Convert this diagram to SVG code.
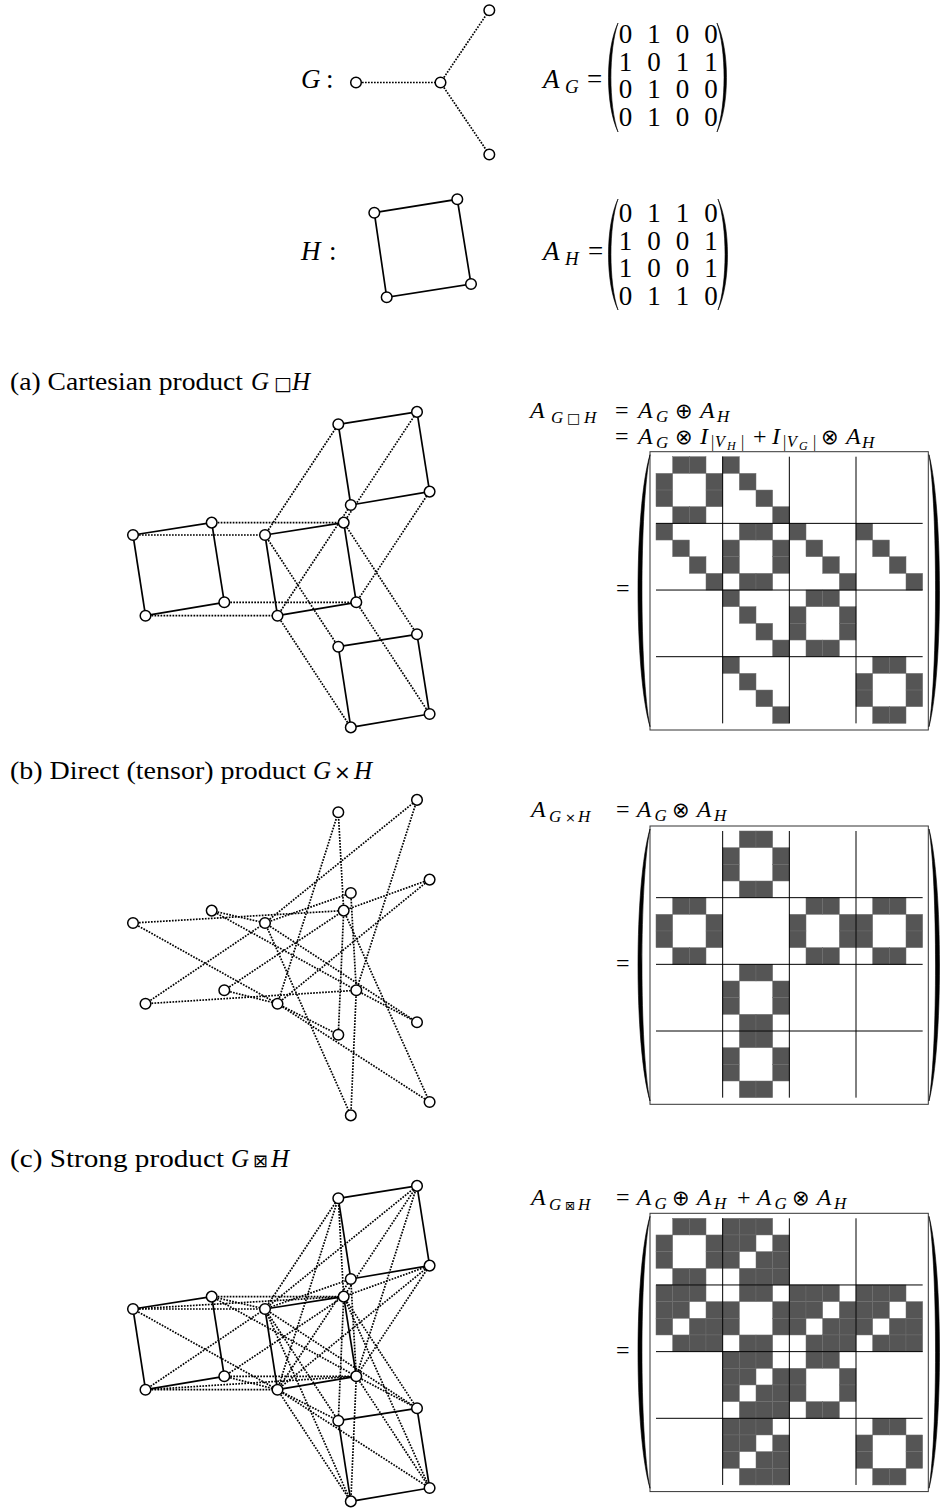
<svg xmlns="http://www.w3.org/2000/svg" xmlns:xlink="http://www.w3.org/1999/xlink" width="940" height="1509" viewBox="0 0 940 1509">
<style>
.t{font-family:"Liberation Serif","DejaVu Serif",serif;fill:#000}
.i{font-style:italic}
.sym{font-family:"DejaVu Sans","Liberation Sans",sans-serif;fill:#000}
.n{fill:#fff;stroke:#000;stroke-width:1.5}
.s{stroke:#000;stroke-width:1.7;fill:none}
.d{stroke:#000;stroke-width:1.7;stroke-dasharray:1.7 1.3;fill:none}
.cell{fill:#555;stroke:#6e6e6e;stroke-width:0.5}
.sep{stroke:#000;stroke-width:1;fill:none}
.box{fill:none;stroke:#333;stroke-width:1}
.par{fill:#000;stroke:#000;stroke-width:0.6}
</style>
<defs>
<g id="bAH">
<rect class="cell" x="16.667" y="0" width="16.667" height="16.667"/><rect class="cell" x="33.333" y="0" width="16.667" height="16.667"/>
<rect class="cell" x="0" y="16.667" width="16.667" height="16.667"/><rect class="cell" x="50" y="16.667" width="16.667" height="16.667"/>
<rect class="cell" x="0" y="33.333" width="16.667" height="16.667"/><rect class="cell" x="50" y="33.333" width="16.667" height="16.667"/>
<rect class="cell" x="16.667" y="50" width="16.667" height="16.667"/><rect class="cell" x="33.333" y="50" width="16.667" height="16.667"/>
</g>
<g id="bI">
<rect class="cell" x="0" y="0" width="16.667" height="16.667"/><rect class="cell" x="16.667" y="16.667" width="16.667" height="16.667"/>
<rect class="cell" x="33.333" y="33.333" width="16.667" height="16.667"/><rect class="cell" x="50" y="50" width="16.667" height="16.667"/>
</g>
<g id="bIAH">
<rect class="cell" x="0" y="0" width="16.667" height="16.667"/><rect class="cell" x="16.667" y="0" width="16.667" height="16.667"/><rect class="cell" x="33.333" y="0" width="16.667" height="16.667"/>
<rect class="cell" x="0" y="16.667" width="16.667" height="16.667"/><rect class="cell" x="16.667" y="16.667" width="16.667" height="16.667"/><rect class="cell" x="50" y="16.667" width="16.667" height="16.667"/>
<rect class="cell" x="0" y="33.333" width="16.667" height="16.667"/><rect class="cell" x="33.333" y="33.333" width="16.667" height="16.667"/><rect class="cell" x="50" y="33.333" width="16.667" height="16.667"/>
<rect class="cell" x="16.667" y="50" width="16.667" height="16.667"/><rect class="cell" x="33.333" y="50" width="16.667" height="16.667"/><rect class="cell" x="50" y="50" width="16.667" height="16.667"/>
</g>
<g id="frame">
<path class="sep" d="M66.667 0V266.667M133.333 0V266.667M200 0V266.667M0 66.667H266.667M0 133.333H266.667M0 200H266.667"/>
<rect class="box" x="-6" y="-5" width="278.3" height="278.3"/>
<path class="par" d="M-6 -2C-22 52 -22 216 -6 270C-16.7 216 -16.7 52 -6 -2Z"/>
<path class="par" d="M273 -2C287 52 287 216 273 270C281.7 216 281.7 52 273 -2Z"/>
</g>
</defs>

<!-- Top: G -->
<g id="top-G">
<text class="t i" x="301" y="88" font-size="27">G</text>
<text class="t" x="326" y="88" font-size="27">:</text>
<g id="top-G-edges">
<path class="d" d="M356 82.5L440.5 82.5"/>
<path class="d" d="M440.5 82.5L489.3 10.3"/>
<path class="d" d="M440.5 82.5L489.3 154.5"/>
</g>
<g id="G1"><circle class="n" cx="356" cy="82.5" r="5.3"/></g>
<g id="G2"><circle class="n" cx="440.5" cy="82.5" r="5.3"/></g>
<g id="G3"><circle class="n" cx="489.3" cy="10.3" r="5.3"/></g>
<g id="G4"><circle class="n" cx="489.3" cy="154.5" r="5.3"/></g>
<g id="matrix-AG">
<text class="t" y="88" font-size="27"><tspan class="i" x="543">A</tspan><tspan class="i" x="565" y="93" font-size="19">G</tspan><tspan x="587" y="88">=</tspan></text>
<path class="par" d="M618 23C605.3 50 605.3 105 618 132C608.6 105 608.6 50 618 23Z"/>
<path class="par" d="M717 23C729.7 50 729.7 105 717 132C726.4 105 726.4 50 717 23Z"/>
<g class="t" font-size="27" text-anchor="middle">
<text x="625.5 654 682.5 711" y="43">0100</text>
<text x="625.5 654 682.5 711" y="70.7">1011</text>
<text x="625.5 654 682.5 711" y="98.3">0100</text>
<text x="625.5 654 682.5 711" y="126">0100</text>
</g>
</g>
</g>

<!-- Top: H -->
<g id="top-H">
<text class="t i" x="301" y="260" font-size="27">H</text>
<text class="t" x="329" y="260" font-size="27">:</text>
<g id="top-H-edges">
<path class="s" d="M374.3 212.7L457.3 199.3L471 284L386.7 297.3Z"/>
</g>
<g id="H1"><circle class="n" cx="374.3" cy="212.7" r="5.3"/></g>
<g id="H2"><circle class="n" cx="457.3" cy="199.3" r="5.3"/></g>
<g id="H3"><circle class="n" cx="471" cy="284" r="5.3"/></g>
<g id="H4"><circle class="n" cx="386.7" cy="297.3" r="5.3"/></g>
<g id="matrix-AH">
<text class="t" y="260" font-size="27"><tspan class="i" x="543">A</tspan><tspan class="i" x="565" y="265" font-size="19">H</tspan><tspan x="588" y="260">=</tspan></text>
<path class="par" d="M618 199C605.3 226 605.3 283 618 310C608.6 283 608.6 226 618 199Z"/>
<path class="par" d="M718 199C730.7 226 730.7 283 718 310C727.4 283 727.4 226 718 199Z"/>
<g class="t" font-size="27" text-anchor="middle">
<text x="625.5 654 682.5 711" y="222">0110</text>
<text x="625.5 654 682.5 711" y="249.7">1001</text>
<text x="625.5 654 682.5 711" y="277.3">1001</text>
<text x="625.5 654 682.5 711" y="305">0110</text>
</g>
</g>
</g>

<!-- (a) Cartesian -->
<g id="label-a">
<text class="t" x="10" y="390" font-size="25" textLength="233" lengthAdjust="spacingAndGlyphs">(a) Cartesian product</text>
<text class="t i" x="251" y="390" font-size="25">G</text>
<text class="sym" x="274" y="390" font-size="19">□</text>
<text class="t i" x="292" y="390" font-size="25">H</text>
</g>
<g id="graph-a">
<g id="edges-a">
<path class="s" d="M133 535L211.7 522.6"/><path class="s" d="M211.7 522.6L224.3 602.3"/><path class="s" d="M224.3 602.3L145.5 615.7"/><path class="s" d="M145.5 615.7L133 535"/>
<path class="s" d="M265 535L343.7 522.6"/><path class="s" d="M343.7 522.6L356.3 602.3"/><path class="s" d="M356.3 602.3L277.5 615.7"/><path class="s" d="M277.5 615.7L265 535"/>
<path class="s" d="M338.3 424.3L417 411.9"/><path class="s" d="M417 411.9L429.6 491.6"/><path class="s" d="M429.6 491.6L350.8 505"/><path class="s" d="M350.8 505L338.3 424.3"/>
<path class="s" d="M338.3 646.7L417 634.3"/><path class="s" d="M417 634.3L429.6 714"/><path class="s" d="M429.6 714L350.8 727.4"/><path class="s" d="M350.8 727.4L338.3 646.7"/>
<path class="d" d="M133 535L265 535"/><path class="d" d="M211.7 522.6L343.7 522.6"/><path class="d" d="M224.3 602.3L356.3 602.3"/><path class="d" d="M145.5 615.7L277.5 615.7"/>
<path class="d" d="M265 535L338.3 424.3"/><path class="d" d="M343.7 522.6L417 411.9"/><path class="d" d="M356.3 602.3L429.6 491.6"/><path class="d" d="M277.5 615.7L350.8 505"/>
<path class="d" d="M265 535L338.3 646.7"/><path class="d" d="M343.7 522.6L417 634.3"/><path class="d" d="M356.3 602.3L429.6 714"/><path class="d" d="M277.5 615.7L350.8 727.4"/>
</g>
<g id="a-A1"><circle class="n" cx="133" cy="535" r="5.3"/></g>
<g id="a-A2"><circle class="n" cx="211.7" cy="522.6" r="5.3"/></g>
<g id="a-A3"><circle class="n" cx="224.3" cy="602.3" r="5.3"/></g>
<g id="a-A4"><circle class="n" cx="145.5" cy="615.7" r="5.3"/></g>
<g id="a-B1"><circle class="n" cx="265" cy="535" r="5.3"/></g>
<g id="a-B2"><circle class="n" cx="343.7" cy="522.6" r="5.3"/></g>
<g id="a-B3"><circle class="n" cx="356.3" cy="602.3" r="5.3"/></g>
<g id="a-B4"><circle class="n" cx="277.5" cy="615.7" r="5.3"/></g>
<g id="a-C1"><circle class="n" cx="338.3" cy="424.3" r="5.3"/></g>
<g id="a-C2"><circle class="n" cx="417" cy="411.9" r="5.3"/></g>
<g id="a-C3"><circle class="n" cx="429.6" cy="491.6" r="5.3"/></g>
<g id="a-C4"><circle class="n" cx="350.8" cy="505" r="5.3"/></g>
<g id="a-D1"><circle class="n" cx="338.3" cy="646.7" r="5.3"/></g>
<g id="a-D2"><circle class="n" cx="417" cy="634.3" r="5.3"/></g>
<g id="a-D3"><circle class="n" cx="429.6" cy="714" r="5.3"/></g>
<g id="a-D4"><circle class="n" cx="350.8" cy="727.4" r="5.3"/></g>
</g>
<g id="eq-a">
<text class="t" y="418" font-size="24"><tspan class="i" x="530">A</tspan><tspan class="i" x="551" y="423" font-size="17">G</tspan><tspan class="i" x="584" y="423" font-size="17">H</tspan><tspan x="615" y="418">=</tspan><tspan class="i" x="638">A</tspan><tspan class="i" x="656" y="422" font-size="17">G</tspan><tspan class="i" x="700" y="418">A</tspan><tspan class="i" x="717" y="422" font-size="17">H</tspan></text>
<text class="sym" x="567" y="423" font-size="14">□</text>
<text class="sym" x="675" y="418" font-size="21">⊕</text>
<text class="t" y="444" font-size="24"><tspan x="615">=</tspan><tspan class="i" x="638">A</tspan><tspan class="i" x="656" y="448" font-size="17">G</tspan><tspan class="i" x="700" y="444">I</tspan><tspan x="711" y="447" font-size="16">|</tspan><tspan class="i" x="715" y="447" font-size="16">V</tspan><tspan class="i" x="727" y="450" font-size="12">H</tspan><tspan x="741" y="447" font-size="16">|</tspan><tspan x="753" y="444">+</tspan><tspan class="i" x="772" y="444">I</tspan><tspan x="783" y="447" font-size="16">|</tspan><tspan class="i" x="787" y="447" font-size="16">V</tspan><tspan class="i" x="799" y="450" font-size="12">G</tspan><tspan x="813" y="447" font-size="16">|</tspan><tspan class="i" x="846" y="444">A</tspan><tspan class="i" x="862" y="448" font-size="17">H</tspan></text>
<text class="sym" x="675" y="444" font-size="21">⊗</text>
<text class="sym" x="821" y="444" font-size="21">⊗</text>
</g>
<g id="matrix-a" transform="translate(656,456.7)">
<use xlink:href="#bAH" x="0" y="0"/><use xlink:href="#bAH" x="66.667" y="66.667"/><use xlink:href="#bAH" x="133.333" y="133.333"/><use xlink:href="#bAH" x="200" y="200"/>
<use xlink:href="#bI" x="66.667" y="0"/><use xlink:href="#bI" x="0" y="66.667"/><use xlink:href="#bI" x="133.333" y="66.667"/><use xlink:href="#bI" x="200" y="66.667"/><use xlink:href="#bI" x="66.667" y="133.333"/><use xlink:href="#bI" x="66.667" y="200"/>
<use xlink:href="#frame"/>
<text class="t" x="-40" y="139.5" font-size="24">=</text>
</g>

<!-- (b) Direct -->
<g id="label-b">
<text class="t" x="10" y="779" font-size="25" textLength="296" lengthAdjust="spacingAndGlyphs">(b) Direct (tensor) product</text>
<text class="t i" x="313" y="779" font-size="25">G</text>
<text class="sym" x="334" y="779" font-size="20">×</text>
<text class="t i" x="354" y="779" font-size="25">H</text>
</g>
<g id="graph-b" transform="translate(0,388)">
<g id="edges-b">
<path class="d" d="M133 535L343.7 522.6"/><path class="d" d="M211.7 522.6L265 535"/><path class="d" d="M211.7 522.6L356.3 602.3"/><path class="d" d="M224.3 602.3L343.7 522.6"/>
<path class="d" d="M224.3 602.3L277.5 615.7"/><path class="d" d="M145.5 615.7L356.3 602.3"/><path class="d" d="M145.5 615.7L265 535"/><path class="d" d="M133 535L277.5 615.7"/>
<path class="d" d="M265 535L417 411.9"/><path class="d" d="M343.7 522.6L338.3 424.3"/><path class="d" d="M343.7 522.6L429.6 491.6"/><path class="d" d="M356.3 602.3L417 411.9"/>
<path class="d" d="M356.3 602.3L350.8 505"/><path class="d" d="M277.5 615.7L429.6 491.6"/><path class="d" d="M277.5 615.7L338.3 424.3"/><path class="d" d="M265 535L350.8 505"/>
<path class="d" d="M265 535L417 634.3"/><path class="d" d="M343.7 522.6L338.3 646.7"/><path class="d" d="M343.7 522.6L429.6 714"/><path class="d" d="M356.3 602.3L417 634.3"/>
<path class="d" d="M356.3 602.3L350.8 727.4"/><path class="d" d="M277.5 615.7L429.6 714"/><path class="d" d="M277.5 615.7L338.3 646.7"/><path class="d" d="M265 535L350.8 727.4"/>
</g>
<g id="b-A1"><circle class="n" cx="133" cy="535" r="5.3"/></g>
<g id="b-A2"><circle class="n" cx="211.7" cy="522.6" r="5.3"/></g>
<g id="b-A3"><circle class="n" cx="224.3" cy="602.3" r="5.3"/></g>
<g id="b-A4"><circle class="n" cx="145.5" cy="615.7" r="5.3"/></g>
<g id="b-B1"><circle class="n" cx="265" cy="535" r="5.3"/></g>
<g id="b-B2"><circle class="n" cx="343.7" cy="522.6" r="5.3"/></g>
<g id="b-B3"><circle class="n" cx="356.3" cy="602.3" r="5.3"/></g>
<g id="b-B4"><circle class="n" cx="277.5" cy="615.7" r="5.3"/></g>
<g id="b-C1"><circle class="n" cx="338.3" cy="424.3" r="5.3"/></g>
<g id="b-C2"><circle class="n" cx="417" cy="411.9" r="5.3"/></g>
<g id="b-C3"><circle class="n" cx="429.6" cy="491.6" r="5.3"/></g>
<g id="b-C4"><circle class="n" cx="350.8" cy="505" r="5.3"/></g>
<g id="b-D1"><circle class="n" cx="338.3" cy="646.7" r="5.3"/></g>
<g id="b-D2"><circle class="n" cx="417" cy="634.3" r="5.3"/></g>
<g id="b-D3"><circle class="n" cx="429.6" cy="714" r="5.3"/></g>
<g id="b-D4"><circle class="n" cx="350.8" cy="727.4" r="5.3"/></g>
</g>
<g id="eq-b">
<text class="t" y="816.7" font-size="24"><tspan class="i" x="531">A</tspan><tspan class="i" x="549" y="821.7" font-size="17">G</tspan><tspan class="i" x="578" y="821.7" font-size="17">H</tspan><tspan x="616" y="816.7">=</tspan><tspan class="i" x="636.7">A</tspan><tspan class="i" x="654.5" y="820.7" font-size="17">G</tspan><tspan class="i" x="696.7" y="816.7">A</tspan><tspan class="i" x="714" y="820.7" font-size="17">H</tspan></text>
<text class="sym" x="565" y="821.7" font-size="13">×</text>
<text class="sym" x="672" y="816.7" font-size="21">⊗</text>
</g>
<g id="matrix-b" transform="translate(656,831)">
<use xlink:href="#bAH" x="66.667" y="0"/><use xlink:href="#bAH" x="0" y="66.667"/><use xlink:href="#bAH" x="133.333" y="66.667"/><use xlink:href="#bAH" x="200" y="66.667"/><use xlink:href="#bAH" x="66.667" y="133.333"/><use xlink:href="#bAH" x="66.667" y="200"/>
<use xlink:href="#frame"/>
<text class="t" x="-40" y="139.5" font-size="24">=</text>
</g>

<!-- (c) Strong -->
<g id="label-c">
<text class="t" x="10" y="1167" font-size="25" textLength="214" lengthAdjust="spacingAndGlyphs">(c) Strong product</text>
<text class="t i" x="231" y="1167" font-size="25">G</text>
<text class="sym" x="253" y="1167" font-size="18">⊠</text>
<text class="t i" x="271" y="1167" font-size="25">H</text>
</g>
<g id="graph-c" transform="translate(0,774)">
<g id="edges-c">
<path class="d" d="M133 535L265 535"/><path class="d" d="M211.7 522.6L343.7 522.6"/><path class="d" d="M224.3 602.3L356.3 602.3"/><path class="d" d="M145.5 615.7L277.5 615.7"/>
<path class="d" d="M265 535L338.3 424.3"/><path class="d" d="M343.7 522.6L417 411.9"/><path class="d" d="M356.3 602.3L429.6 491.6"/><path class="d" d="M277.5 615.7L350.8 505"/>
<path class="d" d="M265 535L338.3 646.7"/><path class="d" d="M343.7 522.6L417 634.3"/><path class="d" d="M356.3 602.3L429.6 714"/><path class="d" d="M277.5 615.7L350.8 727.4"/>
<path class="d" d="M133 535L343.7 522.6"/><path class="d" d="M211.7 522.6L265 535"/><path class="d" d="M211.7 522.6L356.3 602.3"/><path class="d" d="M224.3 602.3L343.7 522.6"/>
<path class="d" d="M224.3 602.3L277.5 615.7"/><path class="d" d="M145.5 615.7L356.3 602.3"/><path class="d" d="M145.5 615.7L265 535"/><path class="d" d="M133 535L277.5 615.7"/>
<path class="d" d="M265 535L417 411.9"/><path class="d" d="M343.7 522.6L338.3 424.3"/><path class="d" d="M343.7 522.6L429.6 491.6"/><path class="d" d="M356.3 602.3L417 411.9"/>
<path class="d" d="M356.3 602.3L350.8 505"/><path class="d" d="M277.5 615.7L429.6 491.6"/><path class="d" d="M277.5 615.7L338.3 424.3"/><path class="d" d="M265 535L350.8 505"/>
<path class="d" d="M265 535L417 634.3"/><path class="d" d="M343.7 522.6L338.3 646.7"/><path class="d" d="M343.7 522.6L429.6 714"/><path class="d" d="M356.3 602.3L417 634.3"/>
<path class="d" d="M356.3 602.3L350.8 727.4"/><path class="d" d="M277.5 615.7L429.6 714"/><path class="d" d="M277.5 615.7L338.3 646.7"/><path class="d" d="M265 535L350.8 727.4"/>
<path class="s" d="M133 535L211.7 522.6"/><path class="s" d="M211.7 522.6L224.3 602.3"/><path class="s" d="M224.3 602.3L145.5 615.7"/><path class="s" d="M145.5 615.7L133 535"/>
<path class="s" d="M265 535L343.7 522.6"/><path class="s" d="M343.7 522.6L356.3 602.3"/><path class="s" d="M356.3 602.3L277.5 615.7"/><path class="s" d="M277.5 615.7L265 535"/>
<path class="s" d="M338.3 424.3L417 411.9"/><path class="s" d="M417 411.9L429.6 491.6"/><path class="s" d="M429.6 491.6L350.8 505"/><path class="s" d="M350.8 505L338.3 424.3"/>
<path class="s" d="M338.3 646.7L417 634.3"/><path class="s" d="M417 634.3L429.6 714"/><path class="s" d="M429.6 714L350.8 727.4"/><path class="s" d="M350.8 727.4L338.3 646.7"/>
</g>
<g id="c-A1"><circle class="n" cx="133" cy="535" r="5.3"/></g>
<g id="c-A2"><circle class="n" cx="211.7" cy="522.6" r="5.3"/></g>
<g id="c-A3"><circle class="n" cx="224.3" cy="602.3" r="5.3"/></g>
<g id="c-A4"><circle class="n" cx="145.5" cy="615.7" r="5.3"/></g>
<g id="c-B1"><circle class="n" cx="265" cy="535" r="5.3"/></g>
<g id="c-B2"><circle class="n" cx="343.7" cy="522.6" r="5.3"/></g>
<g id="c-B3"><circle class="n" cx="356.3" cy="602.3" r="5.3"/></g>
<g id="c-B4"><circle class="n" cx="277.5" cy="615.7" r="5.3"/></g>
<g id="c-C1"><circle class="n" cx="338.3" cy="424.3" r="5.3"/></g>
<g id="c-C2"><circle class="n" cx="417" cy="411.9" r="5.3"/></g>
<g id="c-C3"><circle class="n" cx="429.6" cy="491.6" r="5.3"/></g>
<g id="c-C4"><circle class="n" cx="350.8" cy="505" r="5.3"/></g>
<g id="c-D1"><circle class="n" cx="338.3" cy="646.7" r="5.3"/></g>
<g id="c-D2"><circle class="n" cx="417" cy="634.3" r="5.3"/></g>
<g id="c-D3"><circle class="n" cx="429.6" cy="714" r="5.3"/></g>
<g id="c-D4"><circle class="n" cx="350.8" cy="727.4" r="5.3"/></g>
</g>
<g id="eq-c">
<text class="t" y="1205" font-size="24"><tspan class="i" x="531">A</tspan><tspan class="i" x="549" y="1210" font-size="17">G</tspan><tspan class="i" x="578" y="1210" font-size="17">H</tspan><tspan x="616" y="1205">=</tspan><tspan class="i" x="636.7">A</tspan><tspan class="i" x="654.5" y="1209" font-size="17">G</tspan><tspan class="i" x="696.7" y="1205">A</tspan><tspan class="i" x="714" y="1209" font-size="17">H</tspan><tspan x="737" y="1205">+</tspan><tspan class="i" x="756.7">A</tspan><tspan class="i" x="774.5" y="1209" font-size="17">G</tspan><tspan class="i" x="816.7" y="1205">A</tspan><tspan class="i" x="834" y="1209" font-size="17">H</tspan></text>
<text class="sym" x="565" y="1210" font-size="12">⊠</text>
<text class="sym" x="672" y="1205" font-size="21">⊕</text>
<text class="sym" x="792" y="1205" font-size="21">⊗</text>
</g>
<g id="matrix-c" transform="translate(656,1218.3)">
<use xlink:href="#bAH" x="0" y="0"/><use xlink:href="#bAH" x="66.667" y="66.667"/><use xlink:href="#bAH" x="133.333" y="133.333"/><use xlink:href="#bAH" x="200" y="200"/>
<use xlink:href="#bIAH" x="66.667" y="0"/><use xlink:href="#bIAH" x="0" y="66.667"/><use xlink:href="#bIAH" x="133.333" y="66.667"/><use xlink:href="#bIAH" x="200" y="66.667"/><use xlink:href="#bIAH" x="66.667" y="133.333"/><use xlink:href="#bIAH" x="66.667" y="200"/>
<use xlink:href="#frame"/>
<text class="t" x="-40" y="139.5" font-size="24">=</text>
</g>
</svg>
